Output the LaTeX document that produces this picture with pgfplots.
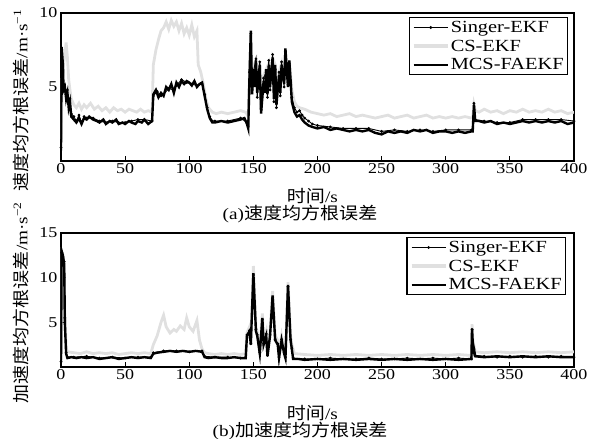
\documentclass[border=0pt]{standalone}
\usepackage{fontspec}
\setmainfont{Liberation Serif}[FakeStretch=1.2]
\newfontfamily\cjk{Noto Sans CJK SC}[FakeStretch=1.12]
\usepackage{pgfplots}
\pgfplotsset{compat=1.18}
\definecolor{csgray}{gray}{0.88}
\pgfplotsset{
  myaxis/.style={
    scale only axis, width=513pt,
    xmin=0, xmax=400, ymin=0,
    xtick={0,50,...,400},
    tick pos=left, tick align=inside,
    major tick length=5pt,
    axis line style={line width=1.3pt},
    every tick/.style={black, line width=1pt},
    /pgf/number format/assume math mode=true,
    tick label style={font=\fontsize{15}{15}\selectfont},
    xticklabel style={yshift=1pt},
    legend cell align=left,
    legend style={font=\fontsize{17}{17}\selectfont, draw=black, line width=1.2pt, inner sep=2.5pt, row sep=4pt,
      nodes={inner sep=1pt}},
    legend image code/.code={\draw[mark repeat=2,mark phase=2,#1] plot coordinates {(0cm,0cm) (0.6cm,0cm) (1.2cm,0cm)};},
  },
  singer/.style={black, line width=0.9pt, mark=*, mark size=0.9pt},
  csekf/.style={csgray, line width=2.8pt},
  mcs/.style={black, line width=2.4pt},
}
\begin{document}
\begin{tikzpicture}
\path[use as bounding box] (0,0) rectangle (595pt,439pt);
% ---------- (a) velocity ----------
\begin{axis}[myaxis, at={(61pt,278pt)}, anchor=south west, height=148pt,
  ymax=10, ytick={5,10},
  legend style={at={(0.988,0.973)}, anchor=north east},
  xlabel={{\cjk\fontsize{17}{17}\selectfont 时间}{\fontsize{16}{16}\selectfont/s}},
  xlabel style={at={(axis description cs:0.49,-0.236)}, anchor=center},
  ylabel={{\cjk\fontsize{17}{17}\selectfont 速度均方根误差}{\fontsize{16}{16}\selectfont/m·s\textsuperscript{−1}}},
  ylabel style={at={(axis description cs:-0.078,0.41)}, anchor=center, rotate=0},
]
\addlegendimage{singer, line width=1pt}
\addlegendimage{csekf, line width=4pt}
\addlegendimage{mcs, line width=2pt}
\addlegendentry{Singer-EKF}
\addlegendentry{CS-EKF}
\addlegendentry{MCS-FAEKF}
% CS-EKF
\addplot[csekf, forget plot] coordinates {
(0,1.5)(1,5.5)(2,6.5)(3,7.2)(4,8.0)(5,7.0)(6,5.5)(7,4.8)(8,4.2)(10,3.8)(12,3.6)(14,3.9)(16,3.5)(18,3.8)(20,3.6)(23,3.9)(26,3.5)(29,3.7)(32,3.4)(35,3.6)(38,3.3)(41,3.6)(44,3.4)(47,3.5)(50,3.3)(53,3.5)(56,3.4)(59,3.3)(62,3.5)(65,3.3)(68,3.4)(71,3.3)(72,6.5)(74,7.5)(76,8.2)(78,8.8)(80,9.0)(82,9.4)(84,8.9)(86,9.5)(88,9.1)(90,9.4)(92,8.8)(94,9.3)(96,8.6)(98,9.0)(100,8.5)(102,9.2)(104,8.4)(106,8.8)(107,6.5)(109,6.0)(111,5.2)(113,4.2)(115,3.6)(118,3.3)(121,3.2)(125,3.3)(130,3.2)(135,3.3)(140,3.4)(144,3.3)(146,3.0)(147,6.0)(148,8.0)(149,5.0)(150,6.4)(152,6.8)(153,4.8)(155,6.6)(156,3.8)(158,5.8)(160,6.2)(162,6.6)(163,5.2)(165,7.0)(167,6.5)(168,4.2)(170,6.0)(172,6.6)(174,5.4)(175,7.2)(177,5.5)(178,6.8)(180,4.8)(182,4.0)(184,3.7)(186,3.6)(190,3.5)(195,3.3)(200,3.2)(205,3.1)(210,3.2)(215,3.0)(220,3.1)(225,3.2)(230,3.0)(235,3.1)(240,3.0)(245,2.9)(250,3.0)(255,3.1)(260,2.9)(265,3.0)(270,3.1)(275,2.9)(280,3.0)(285,3.1)(290,2.9)(295,3.0)(300,2.9)(305,3.0)(310,2.9)(315,3.0)(320,2.9)(321,2.9)(322,3.8)(323,3.4)(326,3.3)(330,3.5)(335,3.3)(340,3.4)(345,3.2)(350,3.4)(355,3.3)(360,3.5)(365,3.3)(370,3.4)(375,3.3)(380,3.5)(385,3.3)(390,3.4)(395,3.2)(400,3.3)
};
% Singer-EKF
\addplot[singer, forget plot] coordinates {
(0,0.9)(0.5,7.5)(1.5,6.2)(2,5.2)(3,4.9)(4,4.5)(5,4.8)(6,3.9)(7,4.2)(8,3.2)(10,3.0)(12,2.7)(14,3.1)(16,2.6)(18,3.0)(20,2.9)(25,2.9)(30,2.7)(35,2.6)(40,2.7)(45,2.6)(50,2.6)(55,2.7)(60,2.8)(65,2.8)(71,2.7)(72,4.4)(75,4.7)(78,4.4)(80,4.5)(84,4.9)(88,4.8)(90,5.1)(94,5.5)(98,5.3)(102,5.2)(106,5.1)(110,5.2)(112,4.5)(114,3.6)(116,3.0)(118,2.7)(120,2.7)(130,2.7)(140,2.9)(145,2.6)(146,2.3)(147,6.0)(148,8.6)(149,4.8)(150,6.0)(152,6.9)(153,4.3)(155,6.7)(156,3.5)(158,5.6)(160,6.0)(161,4.3)(162,6.8)(163,4.8)(165,7.2)(166,4.0)(167,6.2)(168,3.6)(170,6.0)(171,4.4)(172,6.7)(174,5.0)(175,7.4)(176,6.5)(177,5.2)(178,6.6)(179,5.3)(180,4.3)(182,3.6)(184,3.3)(186,3.4)(188,3.1)(190,2.9)(193,2.7)(196,2.5)(200,2.4)(210,2.3)(220,2.2)(230,2.2)(240,2.2)(250,2.0)(260,2.1)(270,2.0)(280,2.1)(290,2.0)(300,2.1)(310,2.1)(320,2.1)(321,2.1)(322,3.9)(323,2.8)(330,2.7)(340,2.6)(350,2.6)(360,2.8)(370,2.8)(380,2.8)(390,2.8)(400,2.7)
};
% MCS-FAEKF
\addplot[mcs, forget plot] coordinates {
(0,0.7)(0.5,7.7)(1.5,6.5)(2,4.8)(3,5.0)(4,4.2)(5,4.6)(6,3.6)(7,4.0)(8,3.0)(10,2.8)(12,2.6)(14,2.9)(16,2.5)(18,2.9)(20,2.8)(22,3.0)(25,2.8)(28,2.7)(30,2.6)(33,2.8)(35,2.5)(38,2.7)(40,2.6)(43,2.8)(45,2.5)(48,2.6)(50,2.5)(53,2.7)(55,2.6)(58,2.5)(60,2.7)(63,2.6)(65,2.8)(68,2.5)(71,2.7)(72,4.5)(74,4.8)(76,4.3)(78,4.6)(80,4.4)(82,5.0)(84,4.8)(86,5.2)(88,4.6)(90,5.3)(92,5.0)(94,5.4)(96,5.2)(98,5.4)(100,5.3)(102,5.1)(104,5.4)(106,5.0)(108,5.2)(110,5.3)(112,4.4)(114,3.5)(116,2.9)(118,2.6)(120,2.6)(125,2.7)(130,2.6)(135,2.7)(140,2.8)(143,2.9)(145,2.5)(146,2.2)(147,5.8)(148,8.8)(149,4.5)(150,6.2)(151,5.0)(152,6.8)(153,4.6)(155,6.5)(156,3.2)(158,5.4)(159,4.6)(160,6.2)(161,4.5)(162,6.5)(163,5.0)(165,7.0)(166,4.2)(167,6.5)(168,3.8)(170,5.8)(171,4.6)(172,6.5)(174,5.2)(175,7.6)(176,6.2)(177,5.0)(178,6.8)(179,5.5)(180,4.0)(182,3.3)(184,3.0)(186,3.1)(188,2.8)(190,2.6)(193,2.4)(196,2.3)(200,2.2)(205,2.3)(210,2.1)(215,2.2)(220,2.1)(225,2.0)(230,2.1)(235,2.0)(240,2.1)(245,1.9)(250,1.8)(255,2.0)(260,1.9)(265,2.0)(270,1.9)(275,2.1)(280,2.0)(285,2.1)(290,1.9)(295,2.0)(300,2.0)(305,1.9)(310,2.0)(315,1.9)(320,2.0)(321,2.0)(322,3.8)(323,2.7)(326,2.7)(330,2.6)(335,2.7)(340,2.5)(345,2.6)(350,2.5)(355,2.6)(360,2.7)(365,2.6)(370,2.7)(375,2.6)(380,2.7)(385,2.6)(390,2.7)(395,2.5)(400,2.6)
};
\end{axis}
% ---------- (b) acceleration ----------
\begin{axis}[myaxis, at={(61pt,72pt)}, anchor=south west, height=134pt,
  ymax=15, ytick={5,10,15},
  legend style={at={(0.984,0.970)}, anchor=north east},
  xlabel={{\cjk\fontsize{17}{17}\selectfont 时间}{\fontsize{16}{16}\selectfont/s}},
  xlabel style={at={(axis description cs:0.49,-0.343)}, anchor=center},
  ylabel={{\cjk\fontsize{17}{17}\selectfont 加速度均方根误差}{\fontsize{16}{16}\selectfont/m·s\textsuperscript{−2}}},
  ylabel style={at={(axis description cs:-0.078,0.48)}, anchor=center, rotate=0},
]
\addlegendimage{singer, line width=1pt}
\addlegendimage{csekf, line width=4pt}
\addlegendimage{mcs, line width=2pt}
\addlegendentry{Singer-EKF}
\addlegendentry{CS-EKF}
\addlegendentry{MCS-FAEKF}
% CS-EKF
\addplot[csekf, forget plot] coordinates {
(0,0.8)(0.5,12.5)(1.5,12.0)(2.5,11.0)(3,6.0)(4,2.2)(5,1.7)(10,1.6)(15,1.5)(20,1.7)(25,1.5)(30,1.6)(35,1.5)(40,1.6)(45,1.4)(50,1.5)(55,1.6)(60,1.5)(65,1.6)(70,1.5)(72,2.5)(75,3.5)(78,5.0)(80,5.8)(82,4.5)(85,3.8)(88,4.2)(90,4.0)(93,4.6)(96,4.2)(98,5.5)(100,4.5)(103,4.0)(106,5.2)(108,3.0)(110,2.0)(112,1.6)(115,1.5)(120,1.4)(125,1.5)(130,1.4)(135,1.5)(140,1.4)(144,1.5)(145,3.8)(147,4.5)(148,3.0)(150,11.3)(152,4.5)(153,4.0)(155,2.0)(157,6.0)(158,3.0)(160,4.0)(161,1.8)(163,4.0)(165,8.5)(167,3.5)(169,3.0)(170,1.5)(172,3.5)(174,2.0)(175,1.5)(177,9.5)(179,3.5)(180,2.5)(182,1.5)(190,1.4)(200,1.3)(210,1.4)(220,1.3)(230,1.4)(240,1.3)(250,1.4)(260,1.3)(270,1.4)(280,1.3)(290,1.4)(300,1.3)(310,1.4)(319,1.3)(320,1.4)(320.5,4.8)(321.5,2.0)(322,2.4)(323,1.7)(330,1.6)(340,1.7)(350,1.6)(360,1.7)(370,1.6)(380,1.7)(390,1.6)(400,1.7)
};
% Singer-EKF
\addplot[singer, forget plot] coordinates {
(0,0.6)(0.5,12.8)(1.5,12.3)(2.5,11.8)(3,5.5)(4,1.6)(5,1.1)(10,1.1)(20,1.2)(30,1.0)(40,1.1)(50,1.0)(60,1.1)(70,1.1)(72,1.6)(80,1.8)(90,1.8)(100,1.7)(110,1.8)(112,1.2)(120,1.1)(130,1.1)(140,1.0)(144,1.1)(145,3.6)(147,4.1)(148,2.6)(150,10.3)(152,4.2)(153,3.6)(155,1.6)(157,5.3)(158,2.6)(160,3.7)(161,1.3)(163,3.6)(165,7.8)(167,3.1)(169,2.6)(170,1.1)(172,3.1)(174,1.6)(175,1.1)(177,9.0)(179,3.1)(180,2.1)(181,1.0)(190,0.9)(200,0.9)(210,1.0)(220,0.9)(230,0.9)(240,1.0)(250,0.9)(260,0.9)(270,1.0)(280,0.9)(290,1.0)(300,0.9)(310,1.0)(320,0.9)(320.5,4.2)(321.5,1.6)(322,2.0)(323,1.3)(330,1.2)(340,1.1)(350,1.2)(360,1.1)(370,1.2)(380,1.1)(390,1.2)(400,1.1)
};
% MCS-FAEKF
\addplot[mcs, forget plot] coordinates {
(0,0.5)(0.5,13.0)(1.5,12.5)(2.5,11.5)(3,5.0)(4,1.5)(5,1.0)(8,1.1)(12,1.0)(16,1.1)(20,1.0)(25,1.1)(30,0.9)(35,1.0)(40,1.1)(45,0.9)(50,1.0)(55,1.1)(60,1.0)(65,1.1)(70,1.0)(72,1.5)(75,1.6)(80,1.7)(85,1.8)(90,1.7)(95,1.8)(100,1.7)(105,1.8)(110,1.7)(112,1.1)(115,1.0)(120,1.1)(125,1.0)(130,1.0)(135,1.1)(140,1.0)(144,1.0)(145,3.5)(147,4.0)(148,2.5)(150,10.5)(152,4.0)(153,3.5)(155,1.5)(157,5.5)(158,2.5)(160,3.5)(161,1.2)(163,3.5)(165,8.0)(167,3.0)(169,2.5)(170,1.0)(172,3.0)(174,1.5)(175,1.0)(177,9.2)(179,3.0)(180,2.0)(181,0.9)(185,0.9)(190,0.8)(200,0.9)(210,0.8)(220,0.9)(230,0.8)(240,0.9)(250,0.8)(260,0.9)(270,0.8)(280,0.9)(290,0.8)(300,0.9)(310,0.8)(320,0.9)(320.5,4.3)(321.5,1.5)(322,2.0)(323,1.2)(330,1.1)(340,1.2)(350,1.1)(360,1.2)(370,1.1)(380,1.2)(390,1.1)(400,1.1)
};
\end{axis}
\node at (300pt,225pt) {{\fontsize{16}{16}\selectfont (a)}{\cjk\fontsize{17}{17}\selectfont 速度均方根误差}};
\node at (300pt,8pt) {{\fontsize{16}{16}\selectfont (b)}{\cjk\fontsize{17}{17}\selectfont 加速度均方根误差}};
\end{tikzpicture}
\end{document}
